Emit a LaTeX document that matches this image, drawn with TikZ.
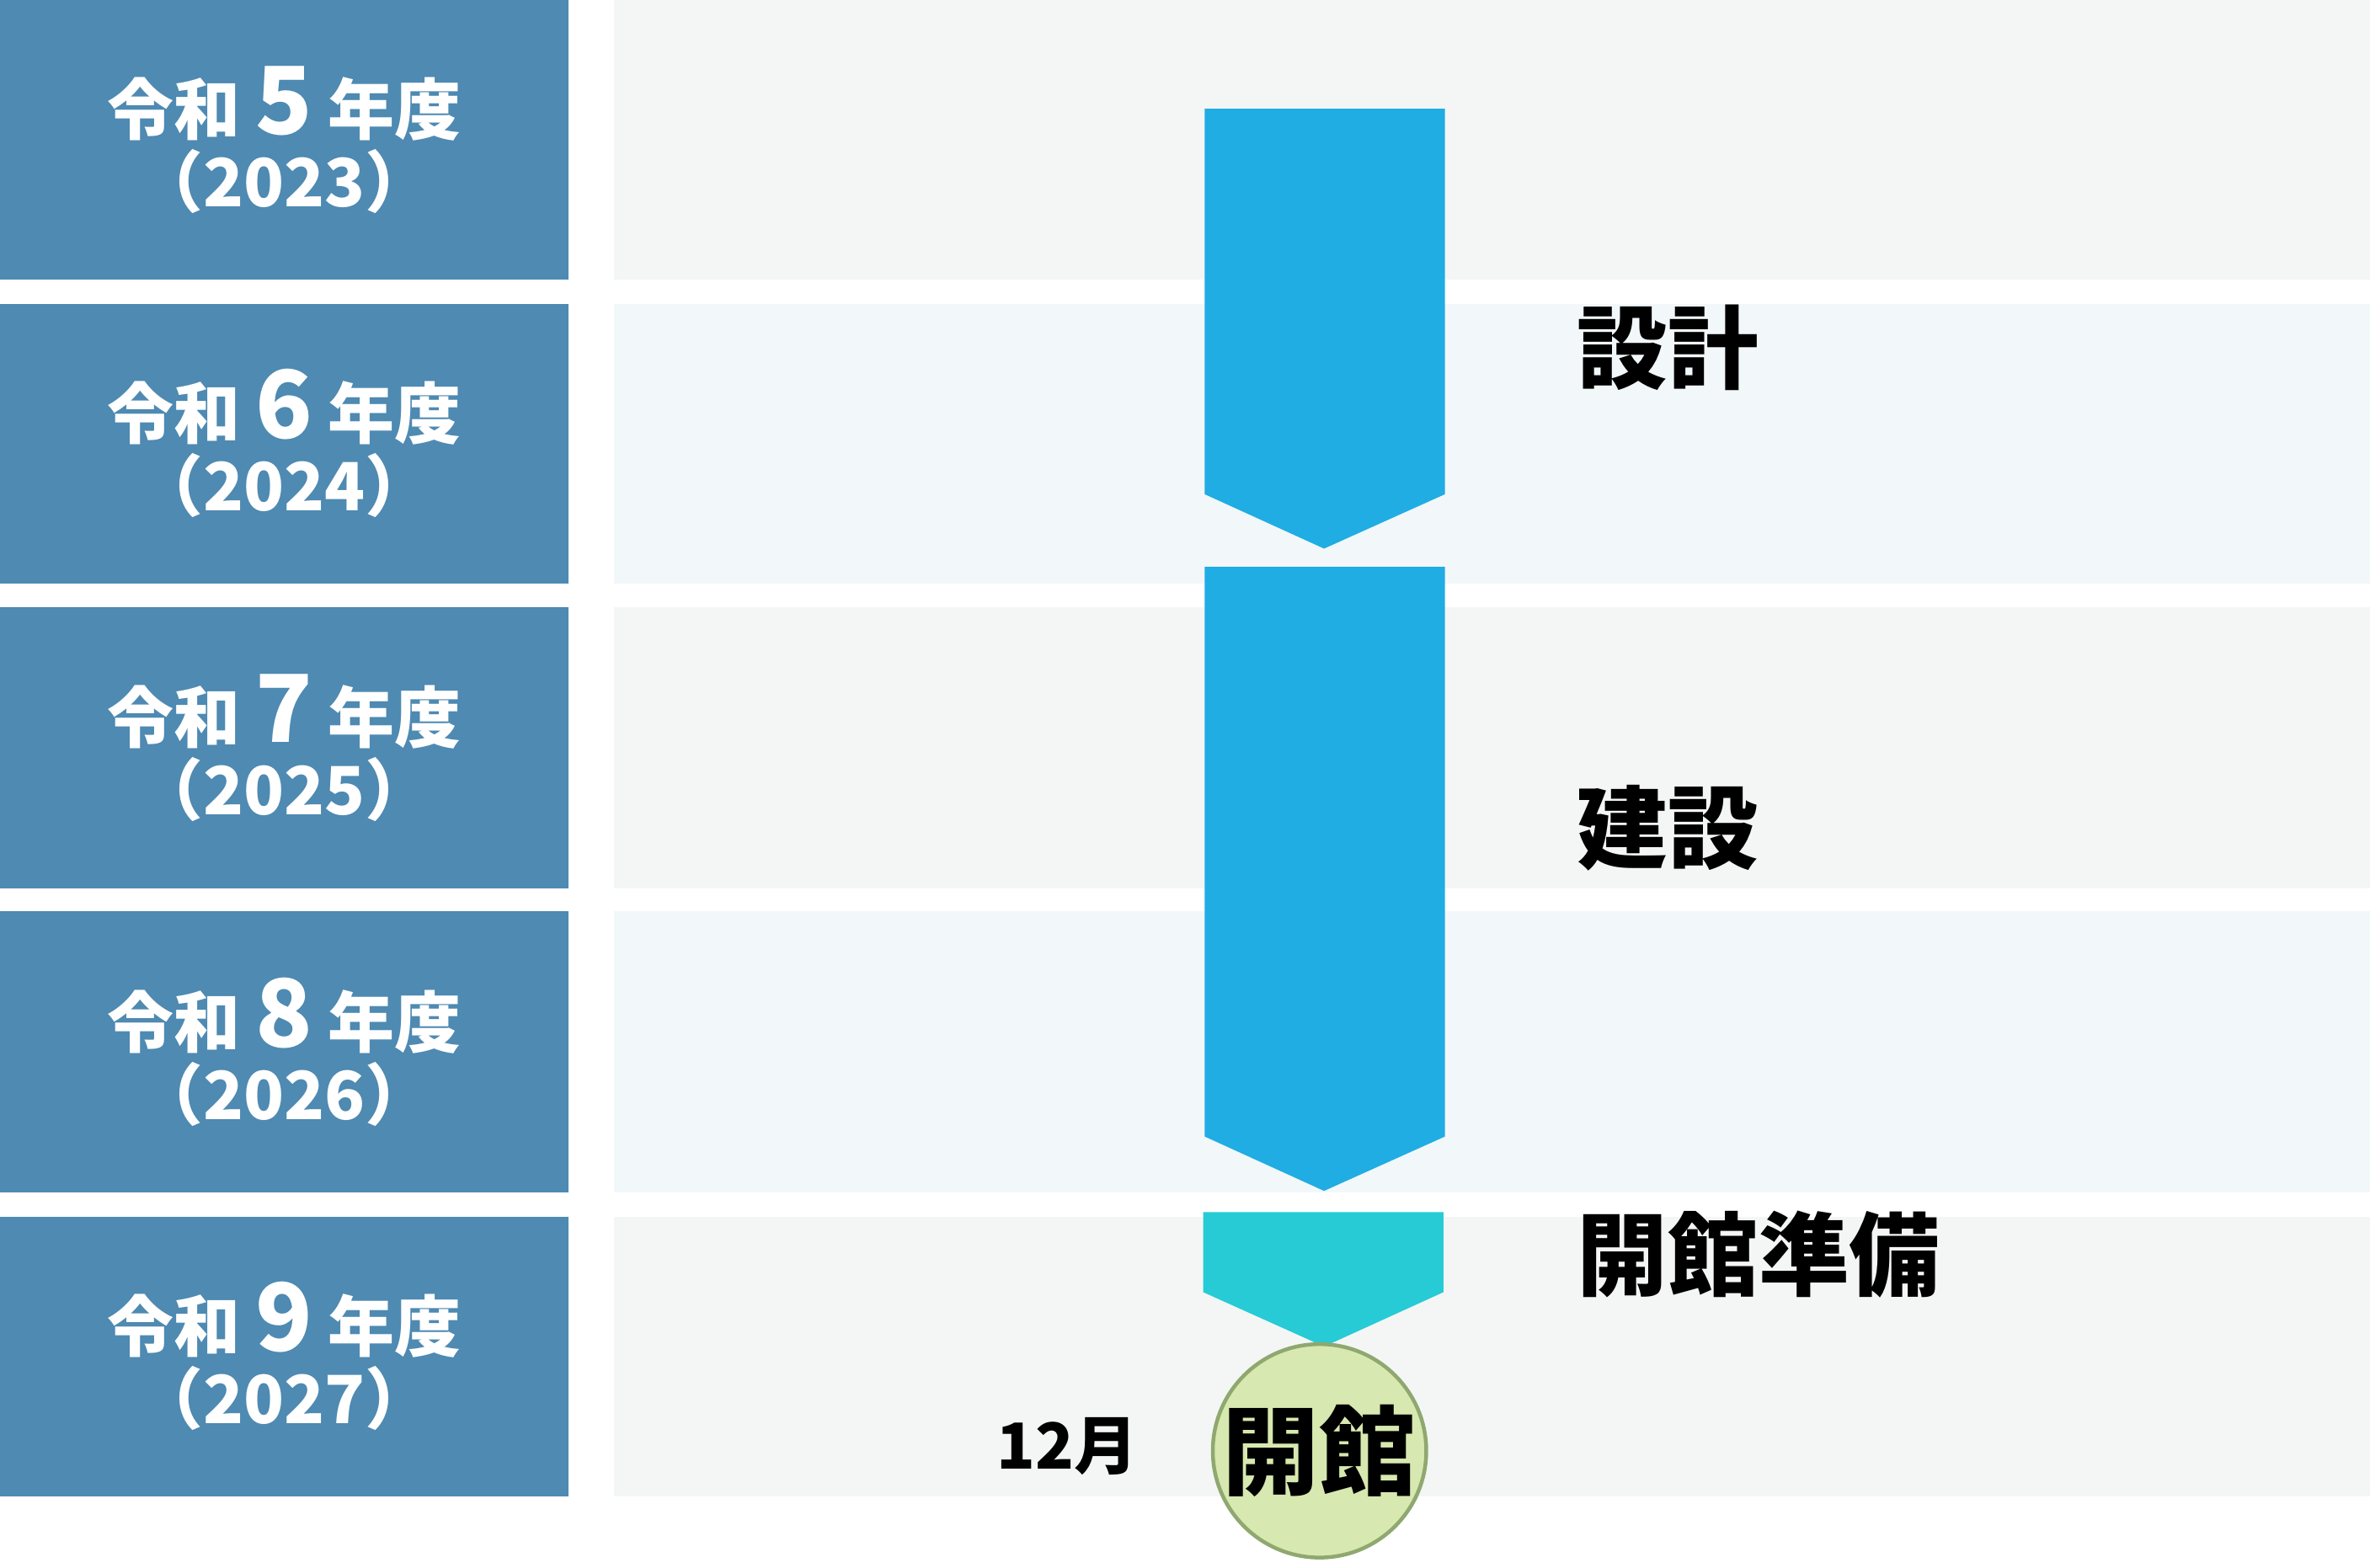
\documentclass[tikz,border=0pt]{standalone}
\usepackage{fontspec}
\newfontfamily\cjk{Noto Sans CJK JP}
\definecolor{yb}{HTML}{4E8AB2}
\definecolor{pa}{HTML}{F4F6F5}
\definecolor{pb}{HTML}{F2F7FA}
\definecolor{ar}{HTML}{1FADE3}
\definecolor{tl}{HTML}{26CBD6}
\definecolor{cf}{HTML}{D7E8B0}
\definecolor{cb}{HTML}{8FA870}
\tikzset{
 year/.style={fill=yb,draw=none},
 ytext/.style={text=white,font=\cjk\bfseries\fontsize{44}{52}\selectfont,align=center},
 lab/.style={font=\cjk\bfseries\fontsize{60}{66}\selectfont,anchor=west},
}
\begin{document}
\begin{tikzpicture}[x=1pt,y=-1pt]
\useasboundingbox (0,0) rectangle (1568,1037);
\fill[white] (0,0) rectangle (1568,1037);
\foreach \i/\t/\b/\n/\y/\c in {0/0/185/5/2023/pa,1/201/386/6/2024/pb,2/402/588/7/2025/pa,3/603/789/8/2026/pb,4/805/990/9/2027/pa}{
 \fill[year] (0,\t) rectangle (376,\b);
 \fill[\c] (406,\t) rectangle (1568,\b);
 \node[ytext] (y\i) at (188,{(\t+\b)/2}) {令和 {\fontsize{62}{62}\selectfont\n} 年度\\[-4pt]（\y）};
}
\fill[ar] (797,72) -- (956,72) -- (956,327) -- (876,363) -- (797,327) -- cycle;
\fill[ar] (797,375) -- (956,375) -- (956,752) -- (876,788) -- (797,752) -- cycle;
\fill[tl] (796,802) -- (955,802) -- (955,855) -- (876,891) -- (796,855) -- cycle;
\node[lab] (l1) at (1040,230) {設計};
\node[lab] (l2) at (1040,548) {建設};
\node[lab] (l3) at (1040,830) {開館準備};
\node[circle,minimum size=130pt,fill=cf,draw=cb,line width=2.5pt,inner sep=0pt,font=\cjk\bfseries\fontsize{64}{64}\selectfont] (op) at (873,960) {開館};
\node[font=\cjk\bfseries\fontsize{42}{48}\selectfont] (m) at (706,957) {12月};
\end{tikzpicture}
\end{document}
